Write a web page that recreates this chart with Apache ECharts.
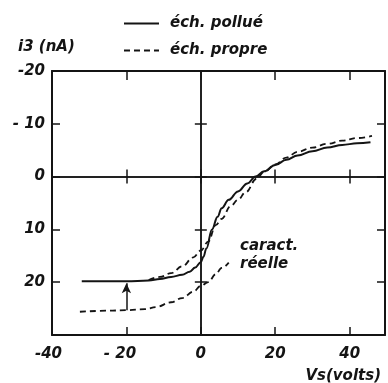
<!DOCTYPE html>
<html>
<head>
<meta charset="utf-8">
<script src="https://cdn.jsdelivr.net/npm/echarts@6/dist/echarts.min.js"></script>
<style>
  html, body { margin: 0; padding: 0; background: #fff; }
  #chart { width: 388px; height: 383px; }
</style>
</head>
<body>
<div id="chart"></div>
<script>
// Tick values and their printed labels
const xTicks = [-40, -20, 0, 20, 40];
const xTickLabels = ['-40', '- 20', '0', '20', '40'];
const yTicks = [-20, -10, 0, 10, 20];
const yTickLabels = ['-20', '- 10', '0', '10', '20'];

// i3 (nA) versus Vs (volts), polluted sample
const polluX = [-32, -20, -14, -11, -8, -5, -3, -1.5, 0, 0.7, 1.5, 3, 4.5, 5.6, 7.5, 10, 12.5, 14.7, 17, 20, 23, 26, 30, 34, 38, 42, 45.6];
const polluY = [19.8, 19.8, 19.7, 19.4, 19.0, 18.6, 18.0, 17.2, 16.2, 15.2, 13.6, 10.0, 7.6, 6.0, 4.4, 2.8, 1.3, 0, -1.0, -2.2, -3.2, -4.0, -4.8, -5.5, -6.0, -6.3, -6.5];

// clean sample
const propreX = [-14, -11, -8, -5, -2, 0, 2, 4, 5.6, 8, 10, 12, 15, 17, 20, 23, 26, 30, 34, 38, 42, 46];
const propreY = [19.6, 19.0, 18.3, 17.0, 15.3, 14.0, 12.3, 9.2, 8.0, 5.6, 4.4, 3.0, 0.4, -0.9, -2.3, -3.6, -4.7, -5.5, -6.2, -6.8, -7.3, -7.7];

// real characteristic
const reelleX = [-32.5, -25, -20, -15, -12, -8, -5, -2, 0, 2, 4, 5.6, 7.5];
const reelleY = [25.6, 25.4, 25.3, 25.1, 24.7, 23.8, 23.0, 21.8, 20.7, 20.0, 18.5, 17.3, 16.3];

// shift arrow between the two plateaus
const arrowX = -20;
const arrowFrom = 25.3;
const arrowTo = 20.2;

const INK = '#141414';
const FONT = 'DejaVu Sans';
const pairs = (xs, ys) => xs.map((x, i) => [x, ys[i]]);

const labelOf = (ticks, labels) => (v) => {
  const i = ticks.indexOf(v);
  return i < 0 ? '' : labels[i];
};

// negative labels: keep the digits centred under the tick, minus sign hanging left
const xFmt = (v) => {
  const s = labelOf(xTicks, xTickLabels)(v);
  if (v < 0 && s) return '{t|' + s + '}' + (s.indexOf(' ') >= 0 ? '{b|}' : '{a|}');
  return s;
};

const textBase = { fontFamily: FONT, fontStyle: 'italic', fontWeight: 'bold', fontSize: 15, color: INK };
const cssFont = (size) => 'italic bold ' + size + 'px "' + FONT + '"';

function xAxisDef(position, onZero, showLabel, tickLen, lineW) {
  return {
    type: 'value', min: -40, max: 49.5, interval: 20, position: position,
    axisLine: { show: true, onZero: onZero, onZeroAxisIndex: 0, lineStyle: { color: INK, width: lineW } },
    axisTick: { show: true, inside: true, length: tickLen, lineStyle: { color: INK, width: 1.5 } },
    axisLabel: showLabel ? Object.assign({}, textBase, {
      margin: 12, formatter: xFmt,
      rich: { t: Object.assign({}, textBase), a: { width: 7 }, b: { width: 13 } }
    }) : { show: false },
    splitLine: { show: false }
  };
}

function yAxisDef(position, onZero, showLabel, tickLen, lineW) {
  return {
    type: 'value', min: -20, max: 30, interval: 10, inverse: true, position: position,
    axisLine: { show: true, onZero: onZero, onZeroAxisIndex: 0, lineStyle: { color: INK, width: lineW } },
    axisTick: { show: true, inside: true, length: tickLen, lineStyle: { color: INK, width: 1.5 } },
    axisLabel: showLabel ? Object.assign({}, textBase, {
      margin: 7, formatter: labelOf(yTicks, yTickLabels)
    }) : { show: false },
    splitLine: { show: false }
  };
}

const chart = echarts.init(document.getElementById('chart'), null, { renderer: 'canvas' });

chart.setOption({
  backgroundColor: '#ffffff',
  animation: false,
  grid: { left: 52, top: 71, width: 335.6, height: 264, containLabel: false },
  legend: {
    data: ['éch. pollué', 'éch. propre'],
    orient: 'vertical', left: 118, top: 11,
    itemWidth: 35, itemHeight: 14, itemGap: 12,
    itemStyle: { color: 'rgba(0,0,0,0)', borderWidth: 0, opacity: 0 },
    textStyle: Object.assign({}, textBase, { padding: [0, 0, 0, 6] }),
    selectedMode: false
  },
  xAxis: [
    xAxisDef('bottom', false, true, 8, 2),
    xAxisDef('top', false, false, 9, 2),
    xAxisDef('bottom', true, false, 7, 1.5),
    xAxisDef('top', true, false, 7, 1.5)
  ],
  yAxis: [
    yAxisDef('left', false, true, 8, 2),
    yAxisDef('right', false, false, 8, 2),
    yAxisDef('left', true, false, 6, 1.5),
    yAxisDef('right', true, false, 6, 1.5)
  ],
  series: [
    {
      name: 'éch. pollué', type: 'line', xAxisIndex: 0, yAxisIndex: 0,
      data: pairs(polluX, polluY), symbol: 'none', smooth: 0.4, smoothMonotone: 'x',
      lineStyle: { color: INK, width: 2 }, itemStyle: { color: INK }, z: 5
    },
    {
      name: 'éch. propre', type: 'line', xAxisIndex: 0, yAxisIndex: 0,
      data: pairs(propreX, propreY), symbol: 'none', smooth: 0.4, smoothMonotone: 'x',
      lineStyle: { color: INK, width: 1.8, type: [6, 4] }, itemStyle: { color: INK }, z: 4
    },
    {
      name: 'caract. réelle', type: 'line', xAxisIndex: 0, yAxisIndex: 0,
      data: pairs(reelleX, reelleY), symbol: 'none', smooth: 0.4, smoothMonotone: 'x',
      lineStyle: { color: INK, width: 1.8, type: [6, 4] }, itemStyle: { color: INK }, z: 4,
      markLine: {
        silent: true, symbol: ['none', 'arrow'], symbolSize: [7, 10],
        label: { show: false },
        lineStyle: { color: INK, width: 1.5, type: 'solid' },
        data: [[{ coord: [arrowX, arrowFrom] }, { coord: [arrowX, arrowTo] }]]
      }
    }
  ],
  graphic: [
    { type: 'text', left: 18, top: 40, style: { text: 'i3 (nA)', font: cssFont(15), fill: INK } },
    { type: 'text', left: 240, top: 239, style: { text: 'caract.', font: cssFont(15), fill: INK } },
    { type: 'text', left: 240, top: 257, style: { text: 'réelle', font: cssFont(15), fill: INK } },
    { type: 'text', right: 7, top: 369, style: { text: 'Vs(volts)', font: cssFont(15), fill: INK } }
  ]
});
</script>
</body>
</html>
